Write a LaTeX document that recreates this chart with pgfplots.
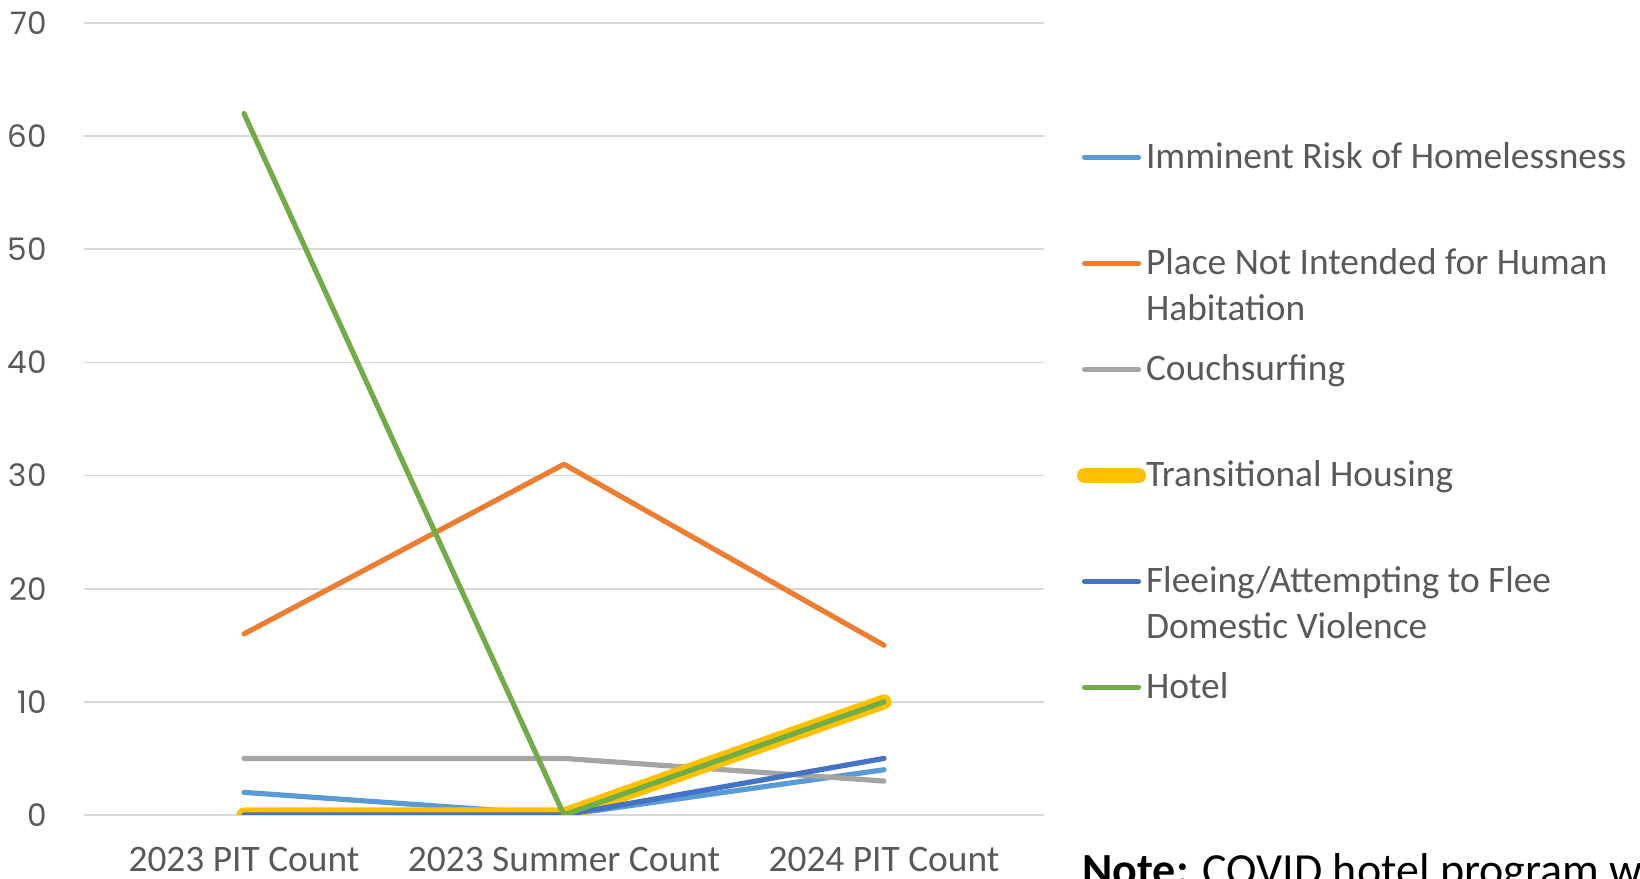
\documentclass[border=0pt]{standalone}
\usepackage{pgfplots}
\pgfplotsset{compat=1.18}
\usepackage{fontspec}
\setmainfont{Carlito}
\newfontfamily\tickfont{Poppins}
\definecolor{c1}{HTML}{5B9BD5}
\definecolor{c2}{HTML}{ED7D31}
\definecolor{c3}{HTML}{A5A5A5}
\definecolor{c4}{HTML}{FFC000}
\definecolor{c5}{HTML}{4472C4}
\definecolor{c6}{HTML}{70AD47}
\definecolor{txt}{HTML}{595959}
\definecolor{gridc}{HTML}{D9D9D9}
\begin{document}
\begin{tikzpicture}
\useasboundingbox (0,0) rectangle (820bp,439.5bp);
\begin{axis}[
  at={(42bp,32bp)}, anchor=south west,
  scale only axis, width=480bp, height=396bp,
  xmin=-0.5, xmax=2.5, ymin=0, ymax=70,
  xtick={0,1,2}, xticklabels={2023 PIT Count,2023 Summer Count,2024 PIT Count},
  ytick={0,10,...,70},
  ymajorgrids, grid style={color=gridc, line width=0.8bp},
  axis line style={draw=none}, major tick style={draw=none},
  xticklabel style={font=\fontsize{18.7bp}{22bp}\selectfont, text=txt, anchor=base, yshift=-28bp},
  yticklabel style={font=\tickfont\fontsize{15.5bp}{18bp}\selectfont, text=txt, anchor=east, inner sep=0pt, xshift=-18.5bp},
  /pgf/number format/assume math mode=true,
  no markers,
  legend style={at={(1.034,0.8497)}, anchor=north west, draw=none, fill=none, inner sep=0pt, row sep=17bp, column sep=0pt, font=\fontsize{18.7bp}{23bp}\selectfont, text=txt, nodes={inner sep=0pt, text height=13bp, text depth=23bp}},
  legend cell align=left,
  legend image code/.code={\draw[#1, line cap=round] (1bp,10.5bp) -- (28bp,10.5bp);},
  every axis plot/.append style={line width=2.6bp, line cap=round, line join=round},
]
\addplot[color=c1] coordinates {(0,2)(1,0)(2,4)};
\addlegendentry{Imminent Risk of Homelessness}
\addplot[color=c2] coordinates {(0,16)(1,31)(2,15)};
\addlegendentry{\begin{tabular}[t]{@{}l@{}}Place Not Intended for Human\\Habitation\end{tabular}}
\addplot[color=c3] coordinates {(0,5)(1,5)(2,3)};
\addlegendentry{Couchsurfing}
\addplot[color=c4, line width=7.5bp] coordinates {(0,0)(1,0)(2,10)};
\addlegendentry{Transitional Housing}
\addplot[color=c5] coordinates {(0,0)(1,0)(2,5)};
\addlegendentry{\begin{tabular}[t]{@{}l@{}}Fleeing/Attempting to Flee\\Domestic Violence\end{tabular}}
\addplot[color=c6] coordinates {(0,62)(1,0)(2,10)};
\addlegendentry{Hotel}
\end{axis}
\node[anchor=base west, font=\fontsize{23bp}{27bp}\selectfont, text=black, inner sep=0pt] at (541bp,-3bp) {\textbf{Note:} COVID hotel program was};
\end{tikzpicture}
\end{document}
